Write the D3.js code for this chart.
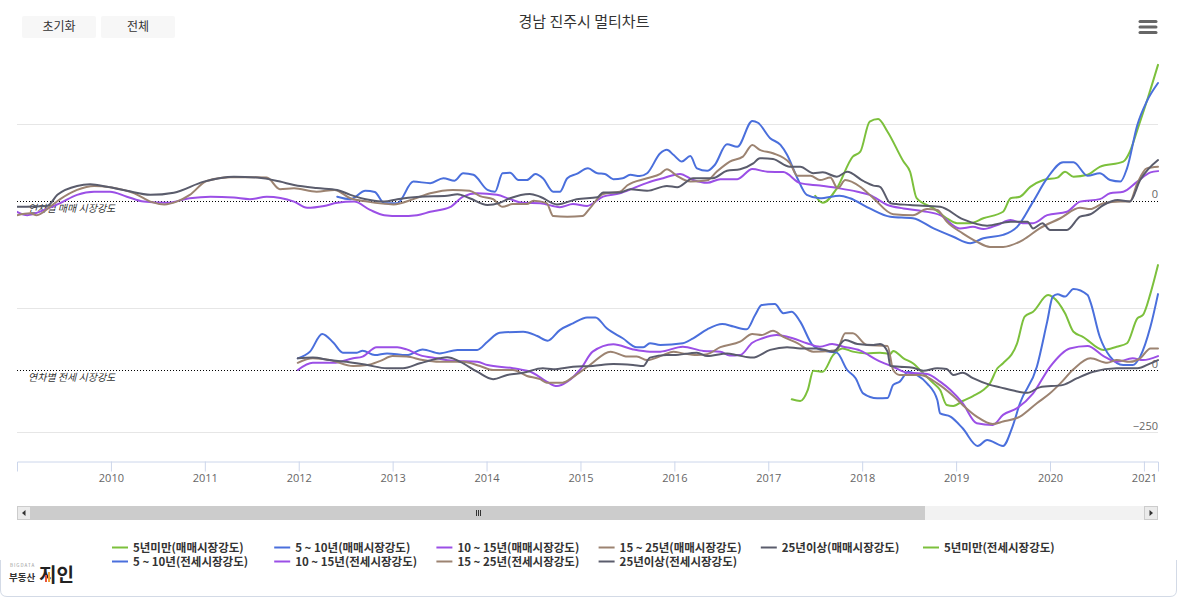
<!DOCTYPE html>
<html><head><meta charset="utf-8">
<script src="https://cdn.jsdelivr.net/npm/d3@7"></script>
<style>
body{margin:0;background:#fff;}
svg{display:block;}
text{font-family:"Noto Sans CJK KR","Noto Sans",sans-serif;}
</style>
</head><body>
<svg id="chart" width="1177" height="598"></svg>
<script>
// ---------- data ----------
const chartTitle = "경남 진주시 멀티차트";
const buttonLabels = ["초기화", "전체"];
const xTickLabels = [2010, 2011, 2012, 2013, 2014, 2015, 2016, 2017, 2018, 2019, 2020, 2021];
const xDomain = [2009.0, 2021.15];
const topGridTicks = [250];
const topLabelTicks = [0];
const bottomGridTicks = [250, -250];
const bottomLabelTicks = [0, -250];
const topPlotLabel = "연차별 매매 시장강도";
const bottomPlotLabel = "연차별 전세 시장강도";

const seriesNames = [
  "5년미만(매매시장강도)", "5 ~ 10년(매매시장강도)", "10 ~ 15년(매매시장강도)", "15 ~ 25년(매매시장강도)", "25년이상(매매시장강도)",
  "5년미만(전세시장강도)", "5 ~ 10년(전세시장강도)", "10 ~ 15년(전세시장강도)", "15 ~ 25년(전세시장강도)", "25년이상(전세시장강도)"
];
const seriesPane = ["top","top","top","top","top","bottom","bottom","bottom","bottom","bottom"];

// [decimal year, value]
const sale5Under = [[2017.50,17],[2017.58,-6],[2017.73,41],[2017.90,144],[2017.98,160],[2018.08,258],[2018.17,266],[2018.27,225],[2018.44,128],[2018.51,95],[2018.58,9],[2018.76,-24],[2018.90,-56],[2019.01,-72],[2019.15,-72],[2019.29,-56],[2019.50,-35],[2019.58,9],[2019.68,14],[2019.79,46],[2019.93,68],[2020.08,76],[2020.16,95],[2020.25,79],[2020.40,85],[2020.53,111],[2020.78,128],[2020.85,160],[2020.93,231],[2021.03,323],[2021.15,442]];

const sale5to10 = [[2012.41,14],[2012.55,6],[2012.71,33],[2012.81,29],[2012.91,-7],[2013.05,-7],[2013.22,63],[2013.40,58],[2013.54,74],[2013.66,66],[2013.75,90],[2013.86,85],[2014.01,36],[2014.09,30],[2014.17,90],[2014.25,92],[2014.34,68],[2014.43,68],[2014.52,88],[2014.60,74],[2014.71,30],[2014.78,30],[2014.86,74],[2014.96,88],[2015.08,106],[2015.18,90],[2015.26,88],[2015.35,71],[2015.45,74],[2015.53,85],[2015.63,81],[2015.71,90],[2015.85,155],[2015.92,166],[2015.99,150],[2016.08,128],[2016.17,146],[2016.24,106],[2016.35,98],[2016.43,117],[2016.56,184],[2016.67,176],[2016.83,260],[2016.89,254],[2017.02,204],[2017.13,182],[2017.20,150],[2017.31,74],[2017.41,20],[2017.55,9],[2017.76,17],[2017.87,9],[2018.08,-24],[2018.30,-51],[2018.54,-56],[2018.76,-89],[2018.97,-116],[2019.15,-137],[2019.29,-121],[2019.50,-110],[2019.65,-84],[2019.82,-2],[2019.97,74],[2020.14,126],[2020.25,126],[2020.40,82],[2020.53,90],[2020.64,68],[2020.75,63],[2020.82,106],[2020.93,247],[2021.03,323],[2021.15,383]];

const sale10to15 = [[2009.00,-35],[2009.11,-46],[2009.29,-29],[2009.46,-7],[2009.64,20],[2009.82,30],[2009.99,30],[2010.17,14],[2010.35,-2],[2010.60,-6],[2010.84,9],[2011.06,14],[2011.31,11],[2011.48,6],[2011.66,14],[2011.95,-2],[2012.09,-22],[2012.27,-16],[2012.41,-6],[2012.59,-2],[2012.76,-29],[2012.91,-46],[2013.08,-49],[2013.26,-46],[2013.40,-35],[2013.61,-20],[2013.75,14],[2013.90,25],[2014.11,20],[2014.25,6],[2014.39,-6],[2014.57,-7],[2014.78,-20],[2014.92,-10],[2015.07,-16],[2015.24,14],[2015.42,25],[2015.56,41],[2015.71,59],[2015.88,74],[2016.06,88],[2016.20,68],[2016.35,59],[2016.49,71],[2016.67,71],[2016.83,104],[2016.99,95],[2017.16,94],[2017.34,58],[2017.55,50],[2017.76,41],[2017.95,30],[2018.08,20],[2018.27,-13],[2018.44,-24],[2018.65,-33],[2018.83,-46],[2019.04,-89],[2019.18,-84],[2019.29,-91],[2019.44,-78],[2019.58,-62],[2019.71,-72],[2019.82,-72],[2019.97,-46],[2020.18,-35],[2020.32,-2],[2020.53,6],[2020.64,25],[2020.78,30],[2020.93,63],[2021.07,93],[2021.15,97]];

const sale15to25 = [[2009.00,-46],[2009.14,-40],[2009.21,-46],[2009.35,-19],[2009.46,6],[2009.64,36],[2009.82,49],[2009.99,45],[2010.25,25],[2010.42,-2],[2010.57,-11],[2010.70,-2],[2010.84,20],[2011.02,65],[2011.27,77],[2011.48,77],[2011.66,76],[2011.80,38],[2011.95,41],[2012.19,30],[2012.38,36],[2012.55,9],[2012.73,-2],[2013.01,-11],[2013.22,6],[2013.40,25],[2013.64,36],[2013.82,33],[2013.93,16],[2014.07,6],[2014.17,-19],[2014.28,-10],[2014.43,-10],[2014.50,1],[2014.64,-7],[2014.71,-49],[2014.86,-51],[2015.02,-49],[2015.10,-24],[2015.24,23],[2015.42,30],[2015.50,51],[2015.71,74],[2015.85,88],[2015.92,103],[2016.03,81],[2016.17,63],[2016.35,67],[2016.45,95],[2016.59,128],[2016.73,144],[2016.83,182],[2016.91,166],[2017.05,155],[2017.23,123],[2017.31,82],[2017.45,82],[2017.55,68],[2017.66,76],[2017.74,41],[2017.82,68],[2017.98,46],[2018.12,9],[2018.33,-43],[2018.54,-46],[2018.69,-26],[2018.80,-29],[2018.90,-67],[2019.07,-105],[2019.22,-132],[2019.36,-149],[2019.50,-149],[2019.71,-127],[2019.89,-89],[2020.11,-56],[2020.32,-22],[2020.43,-26],[2020.57,-7],[2020.75,-2],[2020.85,-2],[2020.93,58],[2021.03,106],[2021.15,111]];

const sale25Over = [[2009.00,-19],[2009.32,-16],[2009.43,20],[2009.64,49],[2009.78,54],[2009.96,46],[2010.17,33],[2010.42,20],[2010.67,27],[2010.99,63],[2011.31,79],[2011.56,76],[2011.80,63],[2011.95,52],[2012.19,42],[2012.41,36],[2012.55,20],[2012.76,3],[2012.91,-2],[2013.05,6],[2013.29,14],[2013.58,17],[2013.69,22],[2013.82,9],[2014.01,-13],[2014.14,-6],[2014.25,9],[2014.46,23],[2014.57,14],[2014.75,-11],[2014.96,6],[2015.18,12],[2015.24,28],[2015.42,28],[2015.53,38],[2015.71,33],[2015.92,49],[2016.03,45],[2016.20,74],[2016.41,74],[2016.56,98],[2016.70,103],[2016.84,122],[2016.91,139],[2017.05,136],[2017.23,111],[2017.34,111],[2017.48,90],[2017.58,93],[2017.73,79],[2017.84,95],[2018.01,65],[2018.12,50],[2018.19,46],[2018.30,-7],[2018.51,-13],[2018.83,-19],[2019.07,-59],[2019.33,-80],[2019.58,-67],[2019.76,-67],[2019.82,-89],[2019.92,-72],[2020.00,-94],[2020.18,-94],[2020.32,-51],[2020.43,-43],[2020.57,-13],[2020.72,3],[2020.85,-2],[2020.96,68],[2021.15,133]];

const jeonse5Under = [[2017.25,-118],[2017.34,-125],[2017.42,-81],[2017.48,-3],[2017.58,-7],[2017.69,60],[2017.79,87],[2017.90,74],[2018.05,67],[2018.19,70],[2018.30,65],[2018.33,77],[2018.44,47],[2018.54,27],[2018.65,-13],[2018.76,-54],[2018.83,-81],[2018.90,-141],[2018.97,-145],[2019.07,-125],[2019.18,-105],[2019.29,-81],[2019.36,-54],[2019.44,7],[2019.50,27],[2019.65,108],[2019.73,215],[2019.82,235],[2019.98,302],[2020.03,294],[2020.16,229],[2020.25,154],[2020.35,134],[2020.57,81],[2020.71,94],[2020.82,108],[2020.93,208],[2020.99,222],[2021.07,309],[2021.15,423]];

const jeonse5to10 = [[2011.99,47],[2012.12,74],[2012.25,145],[2012.37,110],[2012.47,70],[2012.62,70],[2012.68,78],[2012.81,60],[2012.94,67],[2013.15,60],[2013.32,83],[2013.50,67],[2013.69,81],[2013.90,81],[2014.01,114],[2014.14,150],[2014.39,154],[2014.54,137],[2014.65,118],[2014.78,161],[2014.92,188],[2015.07,212],[2015.16,212],[2015.28,168],[2015.45,128],[2015.60,92],[2015.67,92],[2015.74,108],[2015.85,101],[2016.09,108],[2016.20,128],[2016.35,164],[2016.51,185],[2016.63,175],[2016.77,164],[2016.86,222],[2016.93,262],[2017.07,266],[2017.16,229],[2017.25,235],[2017.34,195],[2017.47,101],[2017.58,78],[2017.73,70],[2017.84,0],[2017.93,-33],[2018.01,-94],[2018.16,-114],[2018.27,-113],[2018.33,-60],[2018.40,-47],[2018.49,-7],[2018.58,-20],[2018.69,-54],[2018.80,-121],[2018.83,-175],[2018.94,-188],[2019.07,-235],[2019.23,-306],[2019.33,-282],[2019.50,-306],[2019.60,-229],[2019.68,-134],[2019.86,13],[2019.97,195],[2020.03,296],[2020.08,305],[2020.16,296],[2020.25,327],[2020.40,302],[2020.43,275],[2020.53,134],[2020.64,54],[2020.78,20],[2020.88,20],[2020.96,54],[2021.07,175],[2021.15,306]];

const jeonse10to15 = [[2011.99,0],[2012.15,29],[2012.37,29],[2012.58,47],[2012.68,54],[2012.83,92],[2013.05,92],[2013.15,83],[2013.29,60],[2013.47,47],[2013.64,37],[2013.90,33],[2014.01,20],[2014.28,7],[2014.50,-13],[2014.64,-47],[2014.75,-65],[2014.86,-47],[2015.00,3],[2015.13,74],[2015.35,104],[2015.56,83],[2015.74,74],[2015.85,74],[2016.09,94],[2016.31,77],[2016.49,74],[2016.59,58],[2016.70,60],[2016.83,110],[2016.94,128],[2017.09,141],[2017.26,128],[2017.41,108],[2017.55,94],[2017.68,105],[2017.80,94],[2017.98,78],[2018.16,40],[2018.33,13],[2018.48,-11],[2018.69,-16],[2018.83,-47],[2018.94,-81],[2019.07,-134],[2019.22,-215],[2019.39,-222],[2019.50,-181],[2019.65,-154],[2019.82,-94],[2020.00,13],[2020.21,87],[2020.40,97],[2020.57,56],[2020.71,33],[2020.88,47],[2020.99,40],[2021.15,56]];

const jeonse15to25 = [[2011.99,29],[2012.15,47],[2012.33,40],[2012.58,16],[2012.73,20],[2012.87,37],[2013.00,56],[2013.15,54],[2013.32,40],[2013.50,33],[2013.75,33],[2013.93,16],[2014.07,0],[2014.28,0],[2014.43,-24],[2014.57,-37],[2014.64,-51],[2014.81,-51],[2014.92,-29],[2015.10,20],[2015.32,74],[2015.50,54],[2015.60,54],[2015.71,40],[2015.88,60],[2015.99,74],[2016.09,67],[2016.24,60],[2016.35,64],[2016.49,92],[2016.70,114],[2016.83,145],[2016.93,141],[2017.05,158],[2017.16,134],[2017.31,108],[2017.48,74],[2017.66,77],[2017.73,81],[2017.82,148],[2017.90,148],[2018.05,101],[2018.27,97],[2018.33,0],[2018.40,-20],[2018.62,-20],[2018.80,-54],[2018.97,-105],[2019.07,-141],[2019.22,-188],[2019.39,-218],[2019.50,-208],[2019.68,-188],[2019.86,-134],[2020.00,-94],[2020.11,-54],[2020.25,3],[2020.43,47],[2020.61,29],[2020.71,40],[2020.85,33],[2020.96,47],[2021.07,87],[2021.15,87]];

const jeonse25Over = [[2011.99,47],[2012.15,50],[2012.33,40],[2012.51,33],[2012.73,20],[2012.94,7],[2013.11,7],[2013.29,27],[2013.50,47],[2013.58,51],[2013.72,33],[2013.90,-7],[2014.07,-37],[2014.22,-20],[2014.39,-11],[2014.60,7],[2014.71,3],[2014.92,13],[2015.13,16],[2015.35,24],[2015.56,20],[2015.67,16],[2015.74,50],[2015.92,60],[2015.99,60],[2016.24,70],[2016.35,56],[2016.56,67],[2016.67,60],[2016.83,50],[2017.02,81],[2017.20,92],[2017.34,87],[2017.52,87],[2017.69,74],[2017.82,121],[2017.95,105],[2018.12,101],[2018.19,105],[2018.27,74],[2018.30,16],[2018.40,13],[2018.54,9],[2018.65,-3],[2018.80,7],[2018.90,4],[2018.97,-20],[2019.07,-11],[2019.18,-33],[2019.36,-60],[2019.47,-70],[2019.61,-83],[2019.76,-92],[2019.89,-70],[2020.14,-60],[2020.29,-33],[2020.46,-7],[2020.71,7],[2020.93,7],[2021.07,27],[2021.15,40]];

const seriesData = [sale5Under, sale5to10, sale10to15, sale15to25, sale25Over,
                    jeonse5Under, jeonse5to10, jeonse10to15, jeonse15to25, jeonse25Over];

// ---------- styles ----------
const seriesColors = ["#7cc03c", "#4a6fdc", "#9b4fe6", "#9c8371", "#5a5c6c",
                      "#7cc03c", "#4a6fdc", "#9b4fe6", "#9c8371", "#5a5c6c"];

const W = 1177, H = 598;
const plot = {left: 17, right: 1158, top: 40, bottom: 461};
const topPane = {zero: 201, g250: 124};
const botPane = {zero: 370, g250: 308};

const svg = d3.select("#chart");

// container border (only the rounded bottom edge shows)
svg.append("path")
  .attr("d", `M0.5,560 L0.5,590 Q0.5,596.5 7,596.5 L1170,596.5 Q1176.5,596.5 1176.5,590 L1176.5,560`)
  .attr("fill", "none").attr("stroke", "#d3dae6").attr("stroke-width", 1);

const x = d3.scaleLinear().domain(xDomain).range([plot.left, plot.right]);
const yTop = d3.scaleLinear().domain([0, 250]).range([topPane.zero, topPane.g250]);
const yBot = d3.scaleLinear().domain([0, 250]).range([botPane.zero, botPane.g250]);

// title
svg.append("text").attr("x", 584).attr("y", 27).attr("text-anchor", "middle")
  .attr("font-size", 15).attr("fill", "#333").text(chartTitle);

// buttons
buttonLabels.forEach((b, i) => {
  const bx = 22 + i * 79;
  svg.append("rect").attr("x", bx).attr("y", 16).attr("width", 74).attr("height", 22)
    .attr("rx", 2).attr("fill", "#f7f7f7");
  svg.append("text").attr("x", bx + 37).attr("y", 31).attr("text-anchor", "middle")
    .attr("font-size", 12).attr("fill", "#333").text(b);
});

// menu icon
[21.5, 27, 32.5].forEach(yy => {
  svg.append("line").attr("x1", 1140).attr("x2", 1156).attr("y1", yy).attr("y2", yy)
    .attr("stroke", "#666").attr("stroke-width", 3).attr("stroke-linecap", "round");
});

// grid lines
const grid = svg.append("g");
topGridTicks.forEach(t => grid.append("line").attr("x1", plot.left).attr("x2", plot.right)
  .attr("y1", Math.round(yTop(t)) + 0.5).attr("y2", Math.round(yTop(t)) + 0.5).attr("stroke", "#e6e6e6"));
bottomGridTicks.forEach(t => grid.append("line").attr("x1", plot.left).attr("x2", plot.right)
  .attr("y1", Math.round(yBot(t)) + 0.5).attr("y2", Math.round(yBot(t)) + 0.5).attr("stroke", "#e6e6e6"));

// zero plot lines (dotted)
[yTop(0), yBot(0)].forEach(yy => {
  svg.append("line").attr("x1", plot.left).attr("x2", plot.right)
    .attr("y1", Math.round(yy) + 0.5).attr("y2", Math.round(yy) + 0.5)
    .attr("stroke", "#000").attr("stroke-width", 1).attr("stroke-dasharray", "1,2");
});

// plot line labels
svg.append("text").attr("x", 28).attr("y", yTop(0) + 11).attr("font-size", 10)
  .attr("font-style", "italic").attr("fill", "#333").text(topPlotLabel);
svg.append("text").attr("x", 28).attr("y", yBot(0) + 11).attr("font-size", 10)
  .attr("font-style", "italic").attr("fill", "#333").text(bottomPlotLabel);

// y-axis labels
const fmt = d3.format(",");
topLabelTicks.forEach(t => svg.append("text").attr("x", plot.right).attr("y", yTop(t) - 3)
  .attr("text-anchor", "end").attr("font-size", 11).attr("fill", "#666")
  .style("font-family", "'Open Sans','DejaVu Sans',sans-serif").text(fmt(t)));
bottomLabelTicks.forEach(t => svg.append("text").attr("x", plot.right).attr("y", yBot(t) - 2)
  .attr("text-anchor", "end").attr("font-size", 11).attr("fill", "#666")
  .style("font-family", "'Open Sans','DejaVu Sans',sans-serif").text(fmt(t)));

// x axis
const xAxis = d3.axisBottom(x).tickValues(xTickLabels).tickFormat(d => String(d)).tickSize(10).tickPadding(3);
const gx = svg.append("g").attr("transform", `translate(0,${plot.bottom + 0.5})`).call(xAxis);
gx.select(".domain").attr("stroke", "#ccd6eb");
gx.selectAll(".tick line").attr("stroke", "#ccd6eb");
gx.selectAll(".tick text").attr("fill", "#666").attr("font-size", 11)
  .style("font-family", "'Open Sans','DejaVu Sans',sans-serif");

// clip
svg.append("clipPath").attr("id", "plotClip").append("rect")
  .attr("x", plot.left).attr("y", plot.top).attr("width", plot.right - plot.left + 2).attr("height", plot.bottom - plot.top);

const linesG = svg.append("g").attr("clip-path", "url(#plotClip)");
seriesData.forEach((data, i) => {
  const ys = seriesPane[i] === "top" ? yTop : yBot;
  const line = d3.line().x(d => x(d[0])).y(d => ys(d[1])).curve(d3.curveMonotoneX);
  linesG.append("path").datum(data).attr("d", line).attr("fill", "none")
    .attr("stroke", seriesColors[i]).attr("stroke-width", 2)
    .attr("stroke-linejoin", "round").attr("stroke-linecap", "round");
});

// scrollbar
const sb = svg.append("g");
const sbY = 506, sbH = 14;
sb.append("rect").attr("x", plot.left).attr("y", sbY).attr("width", plot.right - plot.left).attr("height", sbH).attr("fill", "#f2f2f2");
sb.append("rect").attr("x", 31).attr("y", sbY).attr("width", 894).attr("height", sbH).attr("fill", "#cccccc");
[plot.left, plot.right - 14].forEach((bx, i) => {
  sb.append("rect").attr("x", bx + 0.5).attr("y", sbY + 0.5).attr("width", 13).attr("height", sbH - 1)
    .attr("fill", "#ebebeb").attr("stroke", "#cccccc");
  const cx = bx + 7, cy = sbY + 7;
  const p = i === 0 ? `M${cx + 1.5},${cy - 3}L${cx - 2},${cy}L${cx + 1.5},${cy + 3}Z` : `M${cx - 1.5},${cy - 3}L${cx + 2},${cy}L${cx - 1.5},${cy + 3}Z`;
  sb.append("path").attr("d", p).attr("fill", "#333");
});
[-2, 0, 2].forEach(dx => sb.append("line").attr("x1", 478 + dx + 0.5).attr("x2", 478 + dx + 0.5)
  .attr("y1", sbY + 4).attr("y2", sbY + 10).attr("stroke", "#333").attr("stroke-width", 1));

// legend
const legendOrder = [0, 1, 2, 3, 4, 5, 6, 7, 8, 9];
const lg = svg.append("g");
legendOrder.forEach((si, k) => {
  const col = k % 6, row = Math.floor(k / 6);
  const lx = 112 + col * 162.2, ly = 547.5 + row * 14;
  lg.append("line").attr("x1", lx).attr("x2", lx + 16).attr("y1", ly).attr("y2", ly)
    .attr("stroke", seriesColors[si]).attr("stroke-width", 2);
  lg.append("text").attr("x", lx + 21).attr("y", ly + 4).attr("font-size", 11.5)
    .attr("font-weight", "bold").attr("fill", "#333").text(seriesNames[si]);
});

// logo
const logo = svg.append("g");
logo.append("text").attr("x", 10).attr("y", 567).attr("font-size", 4.5).attr("fill", "#999").attr("letter-spacing", 1).text("BIGDATA");
logo.append("text").attr("x", 9).attr("y", 581).attr("font-size", 9.5).attr("font-weight", "bold").attr("fill", "#333").text("부동산");
logo.append("text").attr("x", 39).attr("y", 582).attr("font-size", 19).attr("font-weight", "bold").attr("fill", "#222").text("지인");
logo.append("rect").attr("x", 45).attr("y", 575).attr("width", 2).attr("height", 7).attr("fill", "#e8553b");
logo.append("rect").attr("x", 48).attr("y", 572).attr("width", 2).attr("height", 10).attr("fill", "#f0a23b");
</script>
</body></html>
